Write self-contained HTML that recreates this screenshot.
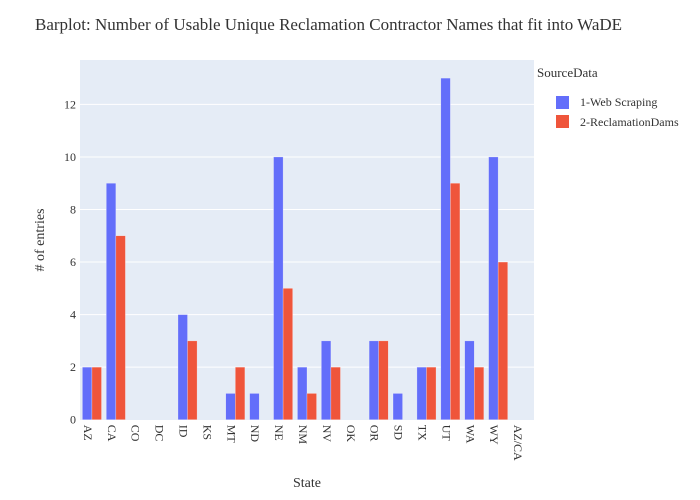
<!DOCTYPE html>
<html><head><meta charset="utf-8"><style>
body{margin:0;background:#fff}
svg{font-family:"Liberation Serif",serif;display:block}
</style></head><body>
<svg id="c" width="700" height="500">
<rect width="700" height="500" fill="#fff"/>
<text x="35" y="30" font-size="17" fill="#333">Barplot: Number of Usable Unique Reclamation Contractor Names that fit into WaDE</text>
<rect x="80" y="60" width="454" height="360" fill="#e5ecf6"/>
<g id="grid"></g><g id="bars"></g><g id="axes"></g>
<text x="307" y="487" font-size="14" fill="#333" text-anchor="middle">State</text>
<text transform="translate(44,240) rotate(-90)" font-size="14" fill="#333" text-anchor="middle"># of entries</text>
<g>
<text x="537" y="77" font-size="13" fill="#333">SourceData</text>
<g><rect x="556" y="96" width="13" height="13" fill="#636efa"/><text x="580" y="106" font-size="12" fill="#333">1-Web Scraping</text></g>
<g><rect x="556" y="115" width="13" height="13" fill="#ef553b"/><text x="580" y="126" font-size="12" fill="#333">2-ReclamationDams</text></g>
</g>
</svg>
<script>
const categories=["AZ","CA","CO","DC","ID","KS","MT","ND","NE","NM","NV","OK","OR","SD","TX","UT","WA","WY","AZ/CA"];
const webScraping=[2,9,0,0,4,0,1,1,10,2,3,0,3,1,2,13,3,10,0];
const reclamationDams=[2,7,0,0,3,0,2,0,5,1,2,0,3,0,2,9,2,6,0];
const yTicks=[0,2,4,6,8,10,12];
const NS="http://www.w3.org/2000/svg";
const L=80,R=534,T=60,B=419.7,yMax=13.69;
const y=v=>B-(B-T)*v/yMax;
const band=(R-L)/categories.length;
const x=i=>L+band*i;
function mk(t,a,p){const e=document.createElementNS(NS,t);for(const k in a)e.setAttribute(k,a[k]);p.appendChild(e);return e;}
const grid=document.getElementById('grid'),bars=document.getElementById('bars'),axes=document.getElementById('axes');
yTicks.forEach(v=>{
 if(v>0){const g=mk('line',{x1:L,x2:R,y1:y(v),y2:y(v),stroke:'#fff','stroke-width':1},grid);
 
 }
 const t=mk('text',{x:L-4,y:y(v)+4,'text-anchor':'end','font-size':12,fill:'#333'},axes);t.textContent=v;
 
 
});
const bw=band*0.4;
categories.forEach((c,i)=>{
 const g0=x(i)+band*0.1;
 [[webScraping,'#636efa','web'],[reclamationDams,'#ef553b','dams']].forEach((s,j)=>{
  const v=s[0][i];if(v<=0)return;
  const r=mk('rect',{x:g0+j*bw,y:y(v),width:bw,height:B-y(v),fill:s[1],stroke:'rgba(255,255,255,0.5)','stroke-width':0.5},bars);
  
  
 });
 const t=mk('text',{transform:`translate(${x(i)+band/2-8},${B+5}) rotate(90)`,'font-size':12,fill:'#333'},axes);
 t.textContent=c;
 
 
});
</script>
</body></html>
